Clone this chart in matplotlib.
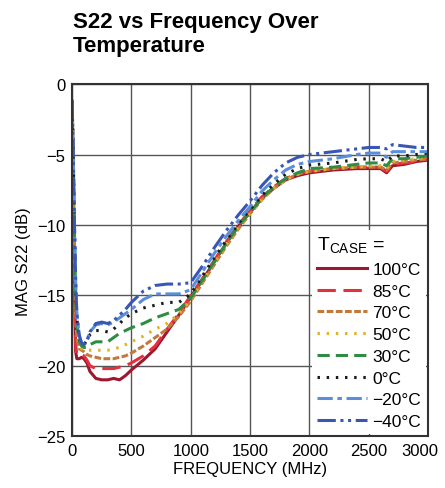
#!/usr/bin/env python3
"""S22 vs frequency over temperature."""

import matplotlib
matplotlib.use('Agg')
import matplotlib.pyplot as plt
import matplotlib.transforms as mtransforms

plt.rcParams['font.family'] = ['Liberation Sans', 'DejaVu Sans']
plt.rcParams['mathtext.fontset'] = 'custom'
plt.rcParams['mathtext.rm'] = 'Liberation Sans'

# Frequency points (MHz), shared by every series
freq = [0, 10, 20, 30, 40, 60, 80, 100, 125, 150, 200, 250, 300, 350, 400, 450,
        500, 600, 700, 800, 900, 1000, 1100, 1200, 1300, 1400, 1500, 1600, 1700,
        1800, 1900, 2000, 2200, 2400, 2500, 2600, 2650, 2700, 2800, 2900, 3000]

s22_100 = [-1.2, -7, -14.5, -19, -19.5, -19.5, -19.4, -19.5, -19.8, -20.4, -20.9, -21.0,
           -21.0, -20.9, -21.0, -20.7, -20.3, -19.6, -18.8, -17.6, -16.4, -15.1, -13.9,
           -12.6, -11.3, -10.1, -9.1, -8.1, -7.4, -6.8, -6.5, -6.3, -6.1, -6.0, -6.0,
           -6.0, -6.3, -5.8, -5.7, -5.5, -5.4]
s22_85 = [-1.2, -7, -14, -18.5, -19.2, -19.2, -19.2, -19.3, -19.6, -20.0, -20.2, -20.2,
          -20.2, -20.2, -20.1, -20.0, -19.8, -19.3, -18.6, -17.4, -16.3, -15.0, -13.8,
          -12.5, -11.2, -10.0, -9.0, -8.0, -7.3, -6.7, -6.4, -6.2, -6.0, -5.9, -5.9,
          -5.9, -6.2, -5.7, -5.6, -5.5, -5.3]
s22_70 = [-1.2, -6, -12, -16, -18, -18.8, -18.9, -19.0, -19.2, -19.3, -19.4, -19.5,
          -19.5, -19.5, -19.4, -19.3, -19.1, -18.6, -18.0, -17.4, -16.5, -15.4, -14.1,
          -12.8, -11.5, -10.3, -9.2, -8.2, -7.4, -6.8, -6.4, -6.2, -6.0, -5.9, -5.9,
          -5.9, -6.1, -5.6, -5.5, -5.4, -5.3]
s22_50 = [-1.2, -5.5, -11.5, -15.5, -17.5, -18.6, -18.8, -18.8, -18.9, -18.9, -18.9, -18.9,
          -18.9, -18.8, -18.7, -18.5, -18.3, -17.9, -17.4, -17.0, -16.3, -15.3, -14.0,
          -12.7, -11.4, -10.2, -9.2, -8.2, -7.4, -6.8, -6.4, -6.2, -6.0, -5.9, -5.8,
          -5.8, -6.0, -5.5, -5.4, -5.3, -5.2]
s22_30 = [-1.2, -5.5, -11, -15, -17, -18.3, -18.6, -18.7, -18.7, -18.5, -18.3, -18.3,
          -18.3, -18.0, -17.7, -17.5, -17.3, -17.0, -16.6, -16.3, -16.0, -15.2, -13.9,
          -12.6, -11.3, -10.1, -9.1, -8.1, -7.3, -6.7, -6.3, -6.0, -5.9, -5.7, -5.6,
          -5.6, -5.8, -5.3, -5.3, -5.2, -5.1]
s22_0 = [-1.2, -5, -10.5, -14.5, -16.7, -18.0, -18.5, -18.5, -18.2, -17.8, -17.5, -17.5,
         -17.6, -17.4, -17.0, -16.6, -16.3, -15.9, -15.7, -15.5, -15.5, -14.9, -13.6,
         -12.3, -11.1, -9.9, -8.9, -7.9, -7.1, -6.4, -6.0, -5.75, -5.6, -5.35, -5.3,
         -5.3, -5.5, -5.1, -5.1, -5.0, -4.9]
s22_m20 = [-1.2, -5, -10, -14, -16.3, -17.9, -18.4, -18.5, -18.2, -17.6, -17.1, -17.0,
           -17.1, -16.9, -16.6, -16.3, -16.0, -15.3, -14.9, -14.9, -14.9, -14.6, -13.3,
           -12.0, -10.8, -9.7, -8.7, -7.6, -6.8, -6.1, -5.7, -5.5, -5.3, -5.0, -4.9,
           -4.9, -5.2, -4.8, -4.8, -4.8, -4.8]
s22_m40 = [-1.2, -5, -10, -14, -16.3, -17.8, -18.4, -18.5, -18.3, -17.6, -17.0, -16.9,
           -17.0, -16.8, -16.4, -16.0, -15.5, -14.7, -14.3, -14.2, -14.2, -14.1, -12.9,
           -11.6, -10.4, -9.3, -8.3, -7.2, -6.3, -5.6, -5.2, -5.0, -4.8, -4.6, -4.5,
           -4.5, -4.6, -4.3, -4.4, -4.5, -4.5]

labels = ['100°C', '85°C', '70°C', '50°C', '30°C', '0°C', '\u221220°C', '\u221240°C']
series = [s22_100, s22_85, s22_70, s22_50, s22_30, s22_0, s22_m20, s22_m40]
colors = ['#9c1830', '#e3303c', '#c27a3c', '#e2b324', '#2f8d43', '#1a1a1a', '#5b8ed8', '#3a56b4']
styles = ['-', (0, (6, 2.5)), (0, (2.2, 0.8)), (0, (0.8, 2.2)), (0, (4, 2)),
          (0, (0.8, 2.2)), (0, (5, 1.5, 1.5, 1.5)), (0, (6, 1.5, 1, 1.5, 1, 1.5))]


def main():
    fig = plt.figure(figsize=(4.45, 4.89), dpi=100)
    ax = fig.add_axes([0.162, 0.106, 0.8, 0.72])

    for vals, lab, col, ls in zip(series, labels, colors, styles):
        ax.plot(freq, vals, color=col, linestyle=ls, linewidth=2.2, label=lab)

    ax.set_xlim(0, 3000)
    ax.set_ylim(-25, 0)
    ax.set_xticks(range(0, 3001, 500))
    ax.set_yticks(range(-25, 1, 5))
    ax.grid(True, color='#555555', linewidth=1)
    ax.tick_params(length=0, labelsize=12, pad=5)
    for sp in ax.spines.values():
        sp.set_linewidth(1.5)
        sp.set_color('#333333')

    # nudge the last x label so it stays inside the figure
    last = ax.get_xticklabels()[-1]
    last.set_transform(last.get_transform() +
                       mtransforms.ScaledTranslation(-6 / 72, 0, fig.dpi_scale_trans))

    ax.set_xlabel('FREQUENCY (MHz)', fontsize=12, labelpad=2)
    ax.set_ylabel('MAG S22 (dB)', fontsize=12, labelpad=4)

    ax.legend(loc='lower right', title='T$_{\\mathrm{CASE}}$ =', fontsize=12.5,
              title_fontsize=14, frameon=True, fancybox=False, edgecolor='none',
              framealpha=1, handlelength=2.9, handletextpad=0.3, labelspacing=0.38,
              borderaxespad=0.1, borderpad=0.3, alignment='left')

    fig.text(0.164, 0.975, 'S22 vs Frequency Over\nTemperature', fontsize=16,
             fontweight='bold', va='top', ha='left', linespacing=1.2)

    fig.savefig('out.png', dpi=100)


if __name__ == "__main__":
    main()
